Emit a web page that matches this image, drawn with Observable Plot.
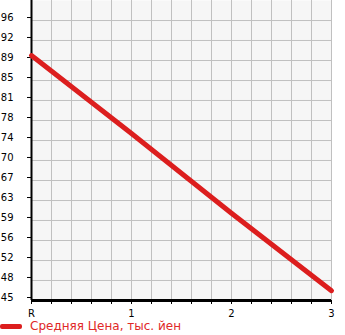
<!DOCTYPE html>
<html>
<head>
<meta charset="utf-8">
<script src="https://cdn.jsdelivr.net/npm/d3@7"></script>
<script src="https://cdn.jsdelivr.net/npm/@observablehq/plot@0.6"></script>
<style>
  body { margin: 0; background: #fff; font-family: "DejaVu Sans", sans-serif; }
  #legend { display: flex; align-items: center; height: 16px; margin-top: 0px; }
  #legend .sw { width: 22px; height: 5px; background: #dc1e1e; border-radius: 2px; margin-right: 8px; }
  #legend span { color: #e02828; font-size: 12px; font-family: "DejaVu Sans", sans-serif; }
</style>
</head>
<body>
<div id="chart"></div>
<script>
const categories = ["R", "1", "2", "3"];
const xPositions = [0, 1, 2, 3];
const avgPrice = [89.5, 75.2, 60.6, 46.4];
const yTickValues = [44.6, 48.27, 51.93, 55.6, 59.27, 62.93, 66.6, 70.27, 73.93, 77.6, 81.27, 84.93, 88.6, 92.27, 95.93];
const yTickLabels = ["45", "48", "52", "56", "59", "63", "67", "70", "74", "78", "81", "85", "89", "92", "96"];
const xMinorTicks = [0, 0.2, 0.4, 0.6, 0.8, 1, 1.2, 1.4, 1.6, 1.8, 2, 2.2, 2.4, 2.6, 2.8, 3];
const yGrid = [48.27, 51.93, 55.6, 59.27, 62.93, 66.6, 70.27, 73.93, 77.6, 81.27, 84.93, 88.6, 92.27, 95.93];
const legendLabel = "Средняя Цена, тыс. йен";

const data = xPositions.map((x, i) => ({x, y: avgPrice[i], cat: categories[i]}));
const yLabelMap = new Map(yTickValues.map((v, i) => [v, yTickLabels[i]]));
const xLabelMap = new Map(xPositions.map((v, i) => [v, categories[i]]));

const chart = Plot.plot({
  width: 345,
  height: 318,
  marginLeft: 31,
  marginRight: 14,
  marginTop: 0,
  marginBottom: 18,
  style: {fontFamily: "DejaVu Sans, sans-serif", fontSize: "10px", color: "#000", background: "#fff"},
  x: {domain: [0, 3], axis: null},
  y: {domain: [44.6, 99.6], axis: null},
  marks: [
    Plot.frame({fill: "#f6f6f6", stroke: null}),
    Plot.ruleX(xMinorTicks.slice(1), {stroke: "#c0c0c0", strokeWidth: 1}),
    Plot.ruleY(yGrid, {stroke: "#c0c0c0", strokeWidth: 1}),
    Plot.axisX(xMinorTicks, {tickSize: 4, tickFormat: () => "", stroke: "#000", label: null}),
    Plot.axisX(xPositions, {tickSize: 0, tickPadding: 9, tickFormat: d => xLabelMap.get(d), fill: "#000", fontSize: 10, label: null}),
    Plot.axisY(yTickValues, {tickSize: 4, tickPadding: 14, tickFormat: d => yLabelMap.get(d), dy: -3, fill: "#000", fontSize: 10, label: null}),
    Plot.ruleY([44.6], {stroke: "#000", strokeWidth: 3, x1: 0, x2: 3}),
    Plot.ruleX([0], {stroke: "#000", strokeWidth: 2, y1: 44.6, y2: 99.6}),
    Plot.line(data, {x: "x", y: "y", stroke: "#dc1e1e", strokeWidth: 5})
  ]
});
document.getElementById("chart").appendChild(chart);
const lg = document.createElement("div");
lg.id = "legend";
lg.innerHTML = `<div class="sw"></div><span>${legendLabel}</span>`;
document.body.appendChild(lg);
</script>
</body>
</html>
